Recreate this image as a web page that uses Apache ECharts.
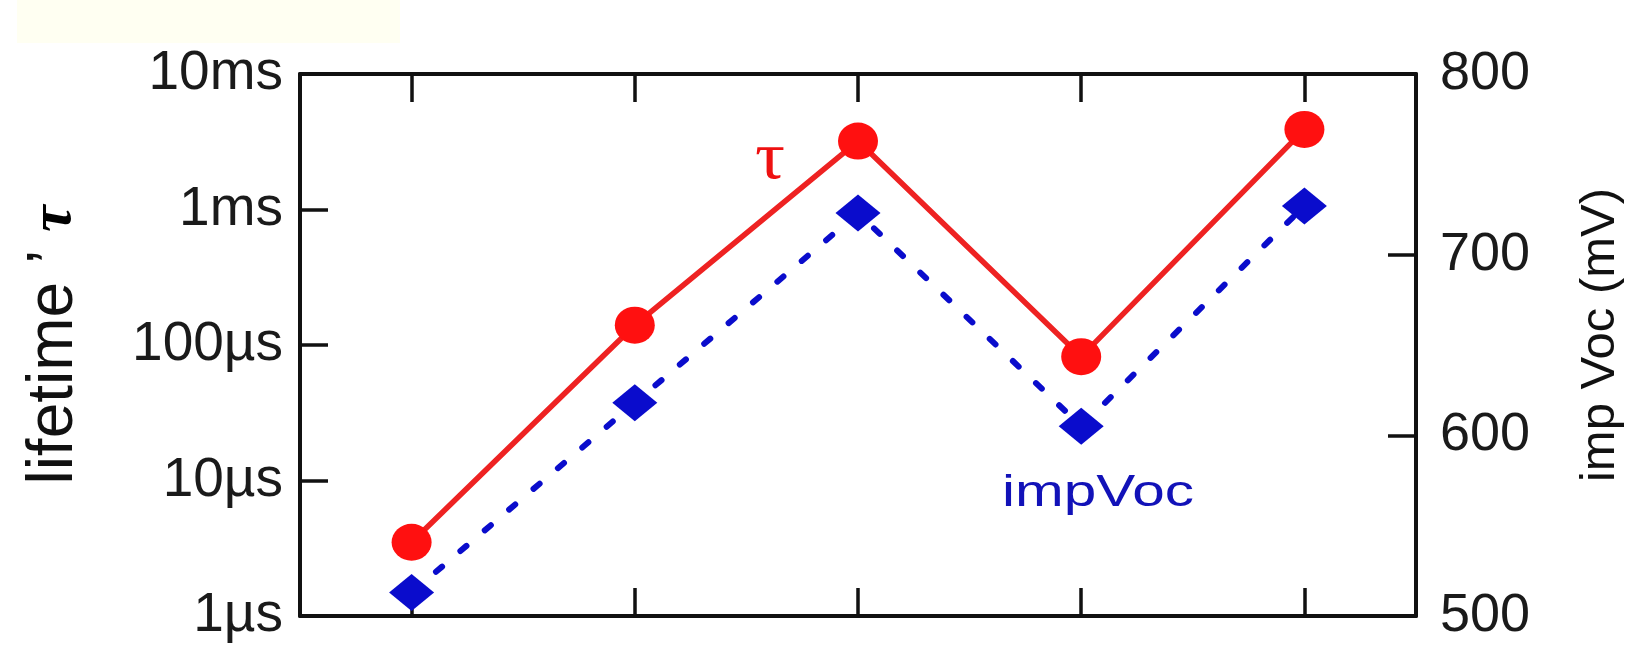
<!DOCTYPE html>
<html>
<head>
<meta charset="utf-8">
<script src="https://cdn.jsdelivr.net/npm/echarts@6/dist/echarts.min.js"></script>
<style>
html,body{margin:0;padding:0;background:#fff;}
#chart{width:1633px;height:658px;}
</style>
</head>
<body>
<div id="chart"></div>
<script>
// ---- data ----
const categories = ['1', '2', '3', '4', '5'];
const tauMicroseconds = [3.5, 140, 3200, 82, 3900];
const impVocMilliVolts = [513, 618, 723, 605, 727];
const lifetimeTickLabels = ['1µs', '10µs', '100µs', '1ms', '10ms'];
const vocMin = 500, vocMax = 800, vocStep = 100;

const FONT = '"Liberation Sans", Arial, Helvetica, sans-serif';
const SERIF = '"Liberation Serif", "Times New Roman", serif';
const AXIS_COLOR = '#111';

const chart = echarts.init(document.getElementById('chart'));

const axisLineStyle = { show: true, lineStyle: { color: AXIS_COLOR, width: 4 } };
const tickStyle = { show: true, inside: true, length: 28, lineStyle: { color: AXIS_COLOR, width: 3.5 } };

chart.setOption({
  backgroundColor: '#ffffff',
  animation: false,
  grid: { left: 300, right: 217, top: 74, bottom: 42 },
  xAxis: [
    {
      type: 'category', data: categories, position: 'bottom', boundaryGap: true,
      axisLine: axisLineStyle,
      axisTick: Object.assign({ alignWithLabel: true }, tickStyle),
      axisLabel: { show: false },
      splitLine: { show: false }
    },
    {
      type: 'category', data: categories, position: 'top', boundaryGap: true,
      axisLine: axisLineStyle,
      axisTick: Object.assign({ alignWithLabel: true }, tickStyle),
      axisLabel: { show: false },
      splitLine: { show: false }
    }
  ],
  yAxis: [
    {
      type: 'log', logBase: 10, min: 1, max: 10000, position: 'left',
      axisLine: axisLineStyle,
      axisTick: tickStyle,
      minorTick: { show: false },
      splitLine: { show: false },
      axisLabel: {
        margin: 17, fontSize: 55, fontFamily: FONT, color: '#1a1a1a',
        formatter: function (v) {
          const i = Math.round(Math.log10(v));
          return lifetimeTickLabels[i] || '';
        }
      }
    },
    {
      type: 'value', min: vocMin, max: vocMax, interval: vocStep, position: 'right',
      axisLine: axisLineStyle,
      axisTick: tickStyle,
      splitLine: { show: false },
      axisLabel: { margin: 24, fontSize: 54, fontFamily: FONT, color: '#1a1a1a' }
    }
  ],
  series: [
    {
      name: 'impVoc', type: 'line', xAxisIndex: 0, yAxisIndex: 1,
      data: impVocMilliVolts,
      symbol: 'diamond', symbolSize: [45, 37],
      itemStyle: { color: '#0a0ccc' },
      lineStyle: { color: '#0a0ccc', width: 6, type: [8, 24], cap: 'round' },
      z: 2
    },
    {
      name: 'τ', type: 'line', xAxisIndex: 0, yAxisIndex: 0,
      data: tauMicroseconds,
      symbol: 'circle', symbolSize: [40, 37],
      itemStyle: { color: '#ff1010' },
      lineStyle: { color: '#ee2222', width: 5.5 },
      z: 3
    }
  ],
  graphic: [
    { type: 'rect', z: -10, shape: { x: 17, y: 0, width: 383, height: 43 }, style: { fill: '#fffff2' } },
    {
      type: 'text', x: 770, y: 160, scaleX: 1.1,
      style: { text: 'τ', fill: '#ee1111', font: '68px ' + SERIF, textAlign: 'center', textVerticalAlign: 'middle' }
    },
    {
      type: 'text', x: 1098, y: 494, scaleX: 1.3,
      style: { text: 'impVoc', fill: '#1212b8', font: '45px ' + FONT, textAlign: 'center', textVerticalAlign: 'middle' }
    },
    {
      type: 'text', x: 54, y: 345, rotation: Math.PI / 2,
      style: {
        text: 'lifetime ’ {t|τ}', fill: '#111', font: '64px ' + FONT,
        textAlign: 'center', textVerticalAlign: 'middle',
        rich: { t: { font: 'bold italic 60px ' + SERIF, fill: '#000' } }
      }
    },
    {
      type: 'text', x: 1600, y: 335, rotation: Math.PI / 2,
      style: { text: 'imp Voc (mV)', fill: '#111', font: '49px ' + FONT, textAlign: 'center', textVerticalAlign: 'middle' }
    }
  ]
});
</script>
</body>
</html>
